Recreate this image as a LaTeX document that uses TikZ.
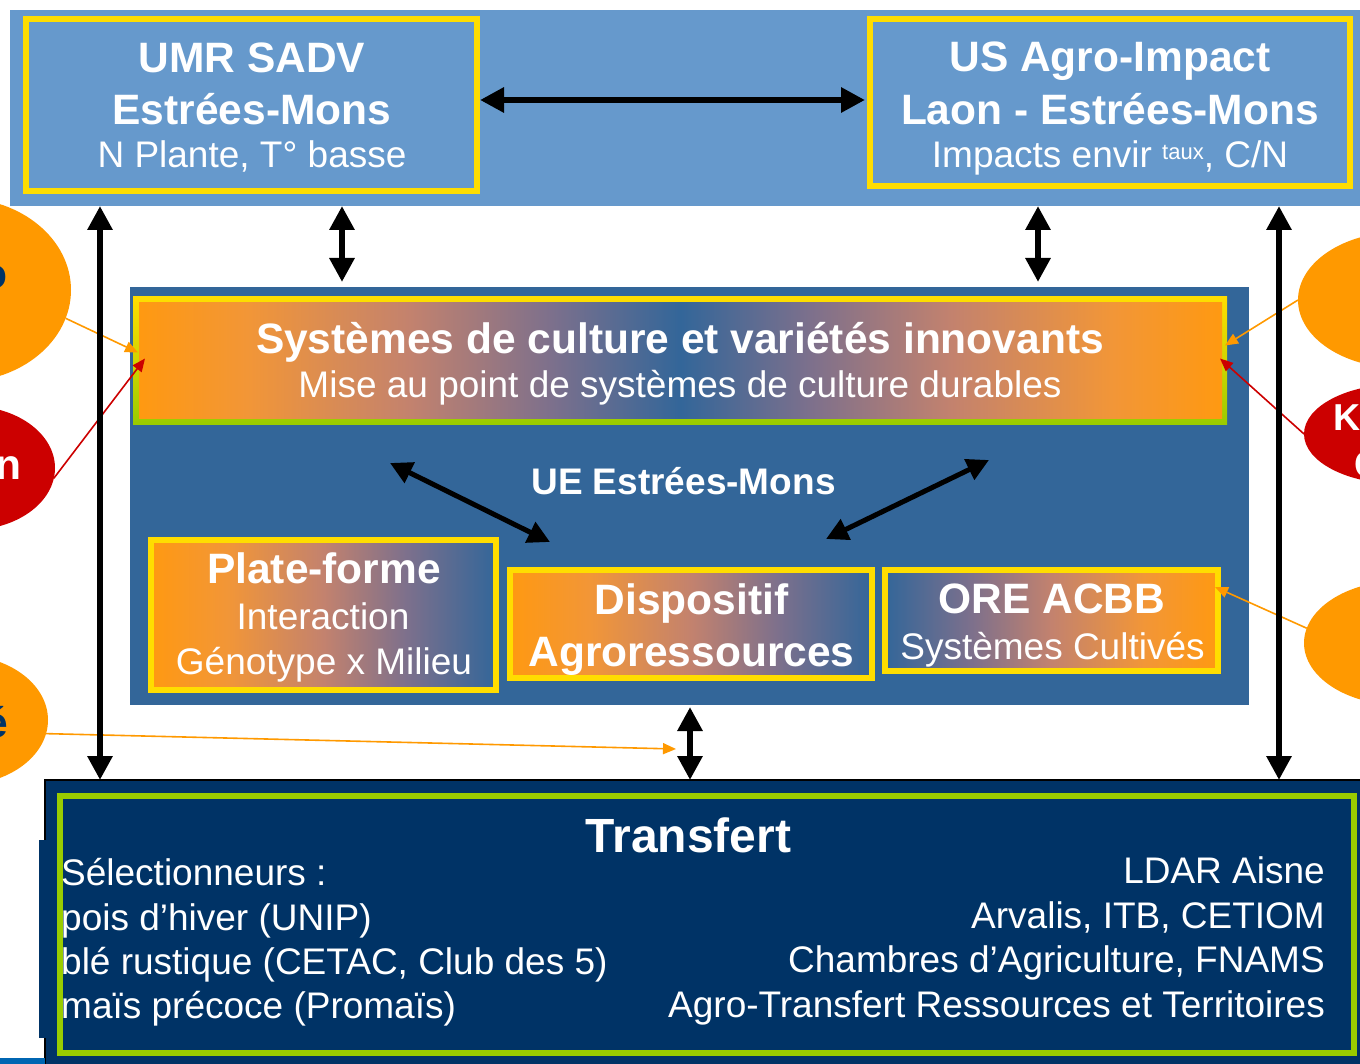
\documentclass[tikz,border=0pt]{standalone}
\usepackage{fontspec}
\setmainfont{Liberation Sans}
\usetikzlibrary{arrows.meta,shapes.geometric,calc}
\definecolor{bandblue}{RGB}{102,153,204}
\definecolor{contblue}{RGB}{51,102,153}
\definecolor{ylw}{RGB}{255,221,0}
\definecolor{grn}{RGB}{153,204,0}
\definecolor{org}{RGB}{255,153,0}
\definecolor{gorg}{RGB}{255,153,17}
\definecolor{orl}{RGB}{242,150,55}
\definecolor{salm}{RGB}{195,130,110}
\definecolor{mauve}{RGB}{125,112,140}
\definecolor{redell}{RGB}{204,0,0}
\definecolor{navy}{RGB}{0,51,102}
\definecolor{stripblue}{RGB}{0,102,178}
\pgfdeclarehorizontalshading{mainsh}{100bp}{color(0bp)=(gorg); color(25bp)=(gorg); color(30bp)=(orl); color(37.5bp)=(salm); color(44bp)=(mauve); color(50bp)=(contblue); color(56bp)=(mauve); color(62.5bp)=(salm); color(70bp)=(orl); color(75bp)=(gorg); color(100bp)=(gorg)}
\pgfdeclarehorizontalshading{obsh}{100bp}{color(0bp)=(gorg); color(25bp)=(gorg); color(36bp)=(orl); color(50bp)=(salm); color(62bp)=(mauve); color(75bp)=(contblue); color(100bp)=(contblue)}
\pgfdeclarehorizontalshading{bosh}{100bp}{color(0bp)=(contblue); color(25bp)=(contblue); color(38bp)=(mauve); color(50bp)=(salm); color(64bp)=(orl); color(75bp)=(gorg); color(100bp)=(gorg)}
\begin{document}
\begin{tikzpicture}[x=1pt,y=-1pt,
  box/.style={rectangle, inner sep=0pt, outer sep=0pt},
  ybox/.style={box, draw=ylw, line width=6pt},
  ell/.style={ellipse, inner sep=0pt, outer sep=0pt},
  tbold/.style={text=white, inner sep=0pt, font=\fontsize{42.5}{50}\selectfont\bfseries},
  treg/.style={text=white, inner sep=0pt, font=\fontsize{37}{44}\selectfont},
  tnavy/.style={text=navy, inner sep=0pt, font=\fontsize{42.5}{50}\selectfont\bfseries},
  bigarr/.style={line width=6pt, {Triangle[length=24pt,width=24pt]}-{Triangle[length=24pt,width=24pt]}},
  midarr/.style={line width=5pt, {Triangle[length=22pt,width=22pt]}-{Triangle[length=22pt,width=22pt]}},
  thinarr/.style={line width=1.6pt, -{Triangle[length=13pt,width=11pt]}}
]
\useasboundingbox (0,0) rectangle (1360,1064);

% side ellipses
\node[ell, fill=org, minimum width=222pt, minimum height=184pt] (e1) at (-40,290) {};
\node[tnavy, anchor=base east] (e1t) at (8,289) {o};
\node[ell, fill=redell, minimum width=170pt, minimum height=124pt] (e2) at (-30,468) {};
\node[tbold, anchor=base east] (e2t) at (22,479) {n};
\node[ell, fill=org, minimum width=176pt, minimum height=130pt] (e3) at (-40,720) {};
\node[tnavy, anchor=base east] (e3t) at (8,737) {é};
\node[ell, fill=org, minimum width=204pt, minimum height=136pt] (r1) at (1400,300) {};
\node[ell, fill=redell, minimum width=192pt, minimum height=100pt] (r2) at (1400,434) {};
\node[text=white, inner sep=0pt, font=\fontsize{37.5}{44}\selectfont\bfseries, anchor=base west] (r2t1) at (1333,430) {K};
\node[text=white, inner sep=0pt, font=\fontsize{37.5}{44}\selectfont\bfseries, anchor=base west] (r2t2) at (1354,477) {C};
\node[ell, fill=org, minimum width=192pt, minimum height=124pt] (r3) at (1400,643) {};

% top band
\node[box, fill=bandblue, minimum width=1352pt, minimum height=196pt] (band) at (686,108) {};
\node[ybox, minimum width=451pt, minimum height=172pt] (umr) at (251.5,105) {};
\node[tbold, anchor=base] (umr1) at (252,73) {UMR SADV};
\node[tbold, anchor=base] (umr2) at (252,125) {Estrées-Mons};
\node[treg, anchor=base] (umr3) at (252,168) {N Plante, T° basse};
\node[ybox, minimum width=480pt, minimum height=167pt] (usa) at (1110,102.5) {};
\node[tbold, anchor=base] (usa1) at (1110,72) {US Agro-Impact};
\node[tbold, anchor=base] (usa2) at (1110,125) {Laon - Estrées-Mons};
\node[treg, anchor=base] (usa3) at (1110,168) {Impacts envir \raisebox{8pt}{\fontsize{22}{22}\selectfont taux}, C/N};

% middle container
\node[box, fill=contblue, minimum width=1119pt, minimum height=418pt] (cont) at (689.5,496) {};
\node[box, top color=ylw, bottom color=grn, middle color=ylw!55!grn, minimum width=1094pt, minimum height=127pt] (mainout) at (680,360.5) {};
\node[box, shading=mainsh, minimum width=1083pt, minimum height=115pt] (mainin) at (680.5,360.5) {};
\node[tbold, anchor=base] (main1) at (680,354) {Systèmes de culture et variétés innovants};
\node[treg, anchor=base] (main2) at (680,398) {Mise au point de systèmes de culture durables};
\node[text=white, inner sep=0pt, font=\fontsize{37}{44}\selectfont\bfseries, anchor=base] (ue) at (683.5,494) {UE Estrées-Mons};

\node[ybox, shading=obsh, minimum width=345pt, minimum height=150pt] (pf) at (323.5,615) {};
\node[tbold, anchor=base] (pf1) at (324,583) {Plate-forme};
\node[treg, anchor=base] (pf2) at (323,629) {Interaction};
\node[treg, anchor=base] (pf3) at (324,674) {Génotype x Milieu};

\node[ybox, shading=obsh, minimum width=362pt, minimum height=108pt] (disp) at (691,624) {};
\node[tbold, anchor=base] (disp1) at (691.5,614) {Dispositif};
\node[tbold, anchor=base] (disp2) at (691.5,666) {Agroressources};

\node[ybox, shading=bosh, minimum width=333pt, minimum height=101pt] (ore) at (1051.5,620.5) {};
\node[tbold, anchor=base] (ore1) at (1052,613) {ORE ACBB};
\node[treg, anchor=base] (ore2) at (1052.5,659) {Systèmes Cultivés};

% transfert
\node[box, fill=navy, draw=black, line width=2pt, minimum width=1317pt, minimum height=286pt] (tr) at (703.5,923) {};
\node[box, fill=navy, minimum width=7pt, minimum height=198pt] (trtab) at (42.5,939) {};
\node[box, fill=stripblue, minimum width=45pt, minimum height=7pt] (strip) at (22.5,1061) {};
\node[box, draw=grn, line width=6pt, minimum width=1294pt, minimum height=257pt] (trg) at (707,924.5) {};
\node[text=white, inner sep=0pt, font=\fontsize{48}{56}\selectfont\bfseries, anchor=base] (tr0) at (688.5,852) {Transfert};
\node[treg, anchor=base west] (tl1) at (61,885) {Sélectionneurs :};
\node[treg, anchor=base west] (tl2) at (61,930) {pois d’hiver (UNIP)};
\node[treg, anchor=base west] (tl3) at (61,974) {blé rustique (CETAC, Club des 5)};
\node[treg, anchor=base west] (tl4) at (61,1018) {maïs précoce (Promaïs)};
\node[treg, anchor=base east] (tr1) at (1325,883) {LDAR Aisne};
\node[treg, anchor=base east] (tr2) at (1325,928) {Arvalis, ITB, CETIOM};
\node[treg, anchor=base east] (tr3) at (1325,972) {Chambres d’Agriculture, FNAMS};
\node[treg, anchor=base east] (tr4) at (1325,1017) {Agro-Transfert Ressources et Territoires};

% thin arrows
\coordinate (e3end) at (676,749);
\draw[thinarr, draw=org, fill=org] (e1.-15) -- ($(mainin.west)+(-1,-8)$);
\draw[thinarr, draw=redell, fill=redell] (e2.-7) -- ($(mainin.west)+(6,-2)$);
\draw[thinarr, draw=org, fill=org] (e3.-9) -- (e3end);
\draw[thinarr, draw=org, fill=org] (r1.west) -- ($(mainout.east)+(-2,-15)$);
\draw[thinarr, draw=redell, fill=redell] (r2.west) -- ($(mainin.east)+(-2,-2)$);
\draw[thinarr, draw=org, fill=org] (r3.171) -- ($(ore.north east)+(-3,17)$);

% big arrows
\coordinate (x100) at (100,0);
\coordinate (x342) at (342,0);
\coordinate (x1038) at (1038,0);
\coordinate (x1279) at (1279,0);
\coordinate (x690) at (690,0);
\draw[bigarr] ($(umr.east)+(3,-5)$) -- ($(usa.west)+(-5,-2.5)$);
\draw[bigarr] (band.south -| x342) -- ($(cont.north -| x342)+(0,-5)$);
\draw[bigarr] (band.south -| x1038) -- ($(cont.north -| x1038)+(0,-5)$);
\draw[bigarr] (band.south -| x100) -- (tr.north -| x100);
\draw[bigarr] (band.south -| x1279) -- (tr.north -| x1279);
\draw[bigarr] ($(cont.south -| x690)+(0,2)$) -- (tr.north -| x690);
\coordinate (dl1) at (390,463);
\coordinate (dl2) at (550,542);
\coordinate (dr1) at (989,460);
\coordinate (dr2) at (826,539);
\draw[midarr] (dl1) -- (dl2);
\draw[midarr] (dr1) -- (dr2);
\end{tikzpicture}
\end{document}
